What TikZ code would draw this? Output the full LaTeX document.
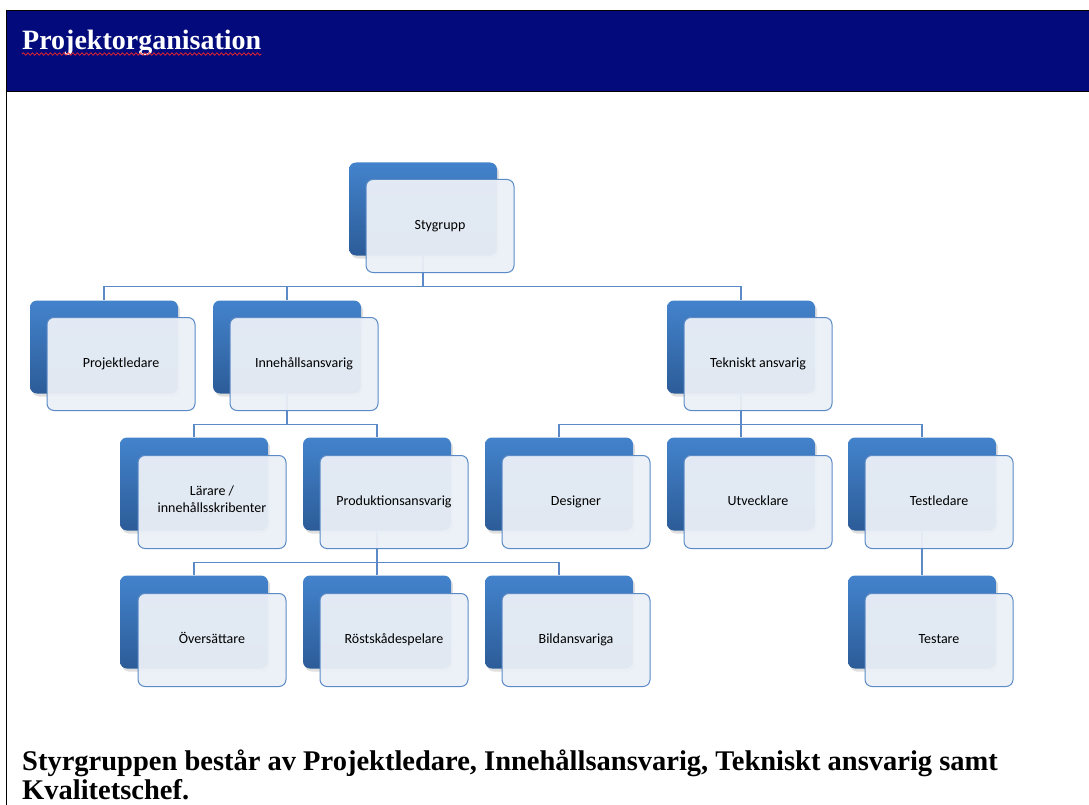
\documentclass[tikz,border=0pt]{standalone}
\usepackage{fontspec}
\setmainfont{Liberation Serif}
\newfontfamily\boxfont{Carlito}
\usetikzlibrary{shadows,decorations.pathmorphing}

\definecolor{headblue}{HTML}{030B7C}
\definecolor{boxtop}{HTML}{4383CC}
\definecolor{boxbot}{HTML}{2C5C98}
\definecolor{boxline}{HTML}{5B8AC6}
\definecolor{boxfill}{HTML}{EBF0F7}

\tikzset{
  back/.style={rectangle, rounded corners=7pt, minimum width=148pt,
    minimum height=93pt, top color=boxtop, bottom color=boxbot,
    drop shadow={opacity=0.25, shadow xshift=2pt, shadow yshift=-3pt}},
  front/.style={rectangle, rounded corners=7pt, minimum width=148pt,
    minimum height=93pt, draw=boxline, line width=1pt, fill=boxfill,
    fill opacity=0.95, text opacity=1, align=center,
    font=\boxfont\fontsize{14}{17}\selectfont,
    execute at begin node=\strut},
  conn/.style={draw=boxline, line width=1.2pt}
}

\begin{document}
\begin{tikzpicture}[x=1pt, y=-1pt]
  \useasboundingbox (0,0) rectangle (1089,805);

  % header band
  \fill[headblue] (6,11) rectangle (1089,92);
  \draw[line width=1pt] (1089,11) -- (6,11) -- (6,805);
  \draw[line width=1pt] (6,92) -- (1089,92);
  \node[anchor=base west, inner sep=0pt, text=white,
    font=\bfseries\fontsize{28}{32}\selectfont] (title) at (22,50) {Projektorganisation};
  \draw[red!85, line width=0.7pt, decorate,
    decoration={snake, amplitude=1.2pt, segment length=4.5pt}]
    ([yshift=-4pt]title.base west) -- ([yshift=-4pt]title.base east);

  % back boxes
  \node[back] (styb) at (423,209) {};
  \node[back] (plb) at (104,347) {};
  \node[back] (inb) at (287,347) {};
  \node[back] (teb) at (741,347) {};
  \node[back] (lab) at (194,484) {};
  \node[back] (prb) at (377,484) {};
  \node[back] (deb) at (559,484) {};
  \node[back] (utb) at (741,484) {};
  \node[back] (tlb) at (922,484) {};
  \node[back] (oeb) at (194,622) {};
  \node[back] (rob) at (377,622) {};
  \node[back] (bib) at (559,622) {};
  \node[back] (tab) at (922,622) {};

  % connectors
  \draw[conn] (styb.south) -- ++(0,31) -| (plb.north);
  \draw[conn] (styb.south) -- ++(0,31) -| (inb.north);
  \draw[conn] (styb.south) -- ++(0,31) -| (teb.north);
  \draw[conn] (inb.south) -- ++(0,30.5) -| (lab.north);
  \draw[conn] (inb.south) -- ++(0,30.5) -| (prb.north);
  \draw[conn] (teb.south) -- ++(0,30.5) -| (deb.north);
  \draw[conn] (teb.south) -- ++(0,30.5) -| (utb.north);
  \draw[conn] (teb.south) -- ++(0,30.5) -| (tlb.north);
  \draw[conn] (prb.south) -- ++(0,31.5) -| (oeb.north);
  \draw[conn] (prb.south) -- ++(0,31.5) -| (rob.north);
  \draw[conn] (prb.south) -- ++(0,31.5) -| (bib.north);
  \draw[conn] (tlb.south) -- (tab.north);

  % front boxes
  \node[front] (sty) at (440,226) {Stygrupp};
  \node[front] (pl) at (121,364) {Projektledare};
  \node[front] (in) at (304,364) {Innehållsansvarig};
  \node[front] (te) at (758,364) {Tekniskt ansvarig};
  \node[front] (la) at (212,502) {Lärare /\\innehållsskribenter};
  \node[front] (pr) at (394,502) {Produktionsansvarig};
  \node[front] (de) at (576,502) {Designer};
  \node[front] (ut) at (758,502) {Utvecklare};
  \node[front] (tl) at (939,502) {Testledare};
  \node[front] (oe) at (212,640) {Översättare};
  \node[front] (ro) at (394,640) {Röstskådespelare};
  \node[front] (bi) at (576,640) {Bildansvariga};
  \node[front] (ta) at (939,640) {Testare};

  % note below
  \node[anchor=base west, inner sep=0pt, align=left,
    font=\bfseries\fontsize{28.5}{29}\selectfont] (note) at (22,799)
    {Styrgruppen består av Projektledare, Innehållsansvarig, Tekniskt ansvarig samt\\Kvalitetschef.};
\end{tikzpicture}
\end{document}
